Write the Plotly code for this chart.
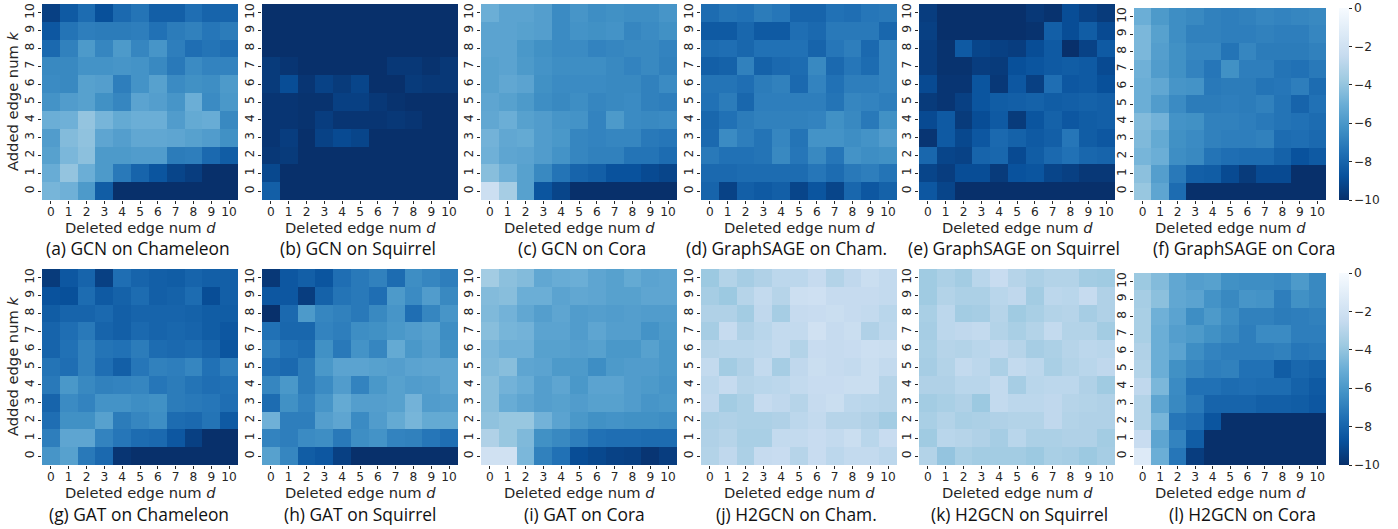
import plotly.graph_objects as go

W, H = 1398, 529
N = -10.0

ticks = list(range(11))
colorbar_ticks = [0, -2, -4, -6, -8, -10]

# every table lists rows from k=10 (top) down to k=0 (bottom), columns d=0..10
gcn_chameleon = [
    [-9.4,-8.4,-7.7,-8.8,-7.8,-7.4,-8.2,-8.2,-7.6,-8.0,-8.0],
    [-8.5,-7.4,-7.0,-7.1,-7.1,-7.0,-7.5,-7.1,-6.9,-7.3,-7.1],
    [-7.8,-6.9,-5.9,-6.7,-5.9,-6.7,-6.1,-7.0,-7.6,-7.4,-7.6],
    [-6.6,-6.6,-6.2,-6.2,-6.1,-6.2,-6.6,-7.2,-6.5,-6.8,-6.8],
    [-6.5,-6.6,-5.6,-5.7,-7.0,-6.2,-5.6,-6.5,-6.3,-6.4,-5.9],
    [-6.2,-5.8,-5.6,-6.3,-6.7,-5.5,-5.7,-6.1,-5.0,-6.5,-6.0],
    [-5.0,-4.9,-4.0,-4.7,-5.2,-5.0,-5.0,-5.8,-5.2,-5.1,-6.6],
    [-5.8,-4.4,-4.1,-5.4,-5.7,-5.3,-5.3,-5.4,-5.6,-5.8,-6.3],
    [-5.6,-4.6,-4.2,-5.9,-5.9,-5.8,-5.8,-7.1,-7.0,-7.8,-8.3],
    [-5.1,-4.0,-5.0,-5.9,-7.2,-8.0,-8.6,-9.2,-9.5,N,N],
    [-4.7,-4.9,-5.9,-8.3,N,N,N,N,N,N,N],
]
gcn_squirrel = [
    [N,N,N,N,N,N,N,N,N,N,N],
    [N,N,N,N,N,N,N,N,N,N,N],
    [N,N,N,N,N,N,N,N,N,N,N],
    [-9.6,-9.8,N,N,N,N,N,-9.7,-9.7,-9.9,-9.7],
    [-9.6,-8.9,-9.8,-9.3,-9.6,-9.2,N,N,-9.6,-9.7,-9.7],
    [-9.8,-9.8,-9.9,-9.9,-9.4,-9.4,-9.7,-9.9,N,N,N],
    [-9.8,-9.8,-9.9,-9.5,-9.8,-9.8,-9.8,-9.7,-9.8,N,N],
    [-9.8,-9.5,N,-9.3,-9.0,-9.2,N,N,N,N,N],
    [-9.7,-9.6,N,N,N,N,N,N,N,N,N],
    [-9.1,N,N,N,N,N,N,N,N,N,N],
    [-8.2,N,N,N,N,N,N,N,N,N,N],
]
gcn_cora = [
    [-5.0,-5.5,-5.5,-5.7,-6.5,-6.1,-6.4,-6.3,-6.4,-6.4,-6.1],
    [-5.5,-5.5,-5.6,-5.7,-6.5,-6.2,-6.3,-6.2,-6.7,-6.5,-6.3],
    [-5.5,-5.5,-6.0,-6.3,-6.5,-6.5,-6.8,-6.7,-6.6,-6.6,-6.8],
    [-5.6,-5.5,-5.9,-6.2,-6.4,-6.4,-6.4,-6.6,-6.8,-6.6,-6.9],
    [-5.6,-5.3,-5.5,-6.3,-6.5,-6.5,-6.5,-6.6,-6.6,-6.9,-6.5],
    [-5.4,-5.6,-5.9,-6.4,-6.6,-6.4,-6.7,-6.6,-6.5,-6.9,-7.0],
    [-5.3,-5.0,-5.6,-5.8,-6.1,-6.2,-6.8,-5.9,-6.5,-6.6,-6.5],
    [-4.8,-5.3,-5.2,-5.8,-6.0,-6.7,-6.8,-6.7,-6.7,-7.2,-7.3],
    [-4.9,-5.4,-5.5,-5.8,-6.2,-6.7,-6.9,-6.9,-7.4,-7.4,-7.7],
    [-4.3,-4.9,-5.6,-6.6,-7.4,-8.0,-8.2,-8.7,-8.7,-9.0,-9.2],
    [-2.2,-3.5,-5.6,-8.6,-9.2,N,N,N,N,N,N],
]
sage_cham = [
    [-7.7,-7.4,-7.5,-7.1,-7.3,-8.0,-8.0,-7.5,-7.6,-7.3,-7.2],
    [-8.4,-8.4,-7.9,-8.4,-8.4,-7.6,-7.8,-7.2,-7.2,-7.2,-7.9],
    [-7.7,-7.6,-7.9,-7.5,-7.5,-7.5,-8.0,-7.3,-7.0,-7.8,-6.8],
    [-8.2,-8.1,-6.9,-8.1,-7.8,-7.7,-6.6,-7.8,-7.3,-7.7,-6.8],
    [-7.4,-7.4,-7.6,-7.1,-6.9,-7.8,-6.8,-7.5,-7.0,-7.0,-6.8],
    [-7.5,-7.1,-7.9,-7.0,-7.0,-7.0,-7.0,-7.4,-6.7,-6.8,-7.0],
    [-7.9,-7.5,-7.1,-6.9,-6.9,-6.9,-6.8,-6.3,-6.6,-7.2,-6.3],
    [-7.8,-6.5,-7.0,-7.4,-6.7,-7.4,-6.2,-6.2,-6.4,-6.2,-5.8],
    [-7.2,-7.5,-7.5,-7.4,-6.6,-7.3,-6.6,-7.3,-6.2,-6.4,-6.3],
    [-7.8,-7.8,-7.7,-7.7,-7.7,-7.7,-7.3,-7.7,-7.2,-7.0,-7.4],
    [-8.0,-9.3,-8.2,-8.4,-8.2,-9.2,-8.6,-9.2,-7.9,-8.5,-8.1],
]
sage_squirrel = [
    [-9.5,N,N,N,N,N,-9.7,-9.9,-8.9,-9.3,-9.6],
    [-9.4,N,N,N,N,N,-9.9,-8.2,-8.9,-8.3,-9.0],
    [-9.5,-9.9,-8.4,-9.2,-9.4,-9.5,-8.9,-8.4,N,-9.3,-8.4],
    [-9.5,-9.9,-9.9,-9.5,-9.6,-8.8,-8.6,-8.4,-8.3,-8.4,-9.0],
    [-9.0,-9.8,-9.8,-8.6,-9.7,-8.5,-9.4,-7.6,-8.5,-8.4,-8.8],
    [-9.6,-9.8,-9.4,-8.6,-8.3,-8.2,-8.1,-8.3,-8.2,-8.1,-8.2],
    [-9.0,-8.4,-9.6,-8.9,-8.4,-9.6,-8.6,-8.1,-8.5,-8.3,-8.2],
    [-9.8,-8.4,-9.1,-8.5,-7.8,-8.1,-8.4,-8.2,-7.3,-8.3,-8.5],
    [-7.9,-9.2,-9.3,-8.0,-7.9,-9.0,-8.3,-7.8,-7.5,-7.9,-8.0],
    [-9.2,-9.5,-8.9,-8.9,-9.6,-8.7,-8.6,-9.2,-9.4,-9.7,-9.7],
    [-8.5,-9.2,N,N,N,N,N,N,N,N,N],
]
sage_cora = [
    [-5.0,-5.9,-6.4,-6.6,-6.9,-7.0,-6.9,-6.7,-6.8,-6.7,-6.6],
    [-4.6,-5.6,-6.4,-6.9,-6.9,-7.0,-7.0,-6.9,-7.0,-7.0,-6.7],
    [-4.6,-5.7,-6.3,-6.7,-6.7,-7.4,-6.7,-7.1,-7.1,-7.1,-6.9],
    [-4.9,-5.8,-6.3,-6.8,-7.3,-6.3,-7.0,-7.0,-7.4,-7.5,-7.2],
    [-5.0,-5.3,-6.1,-6.2,-7.2,-7.1,-7.1,-7.4,-7.3,-7.0,-7.7],
    [-5.0,-5.8,-6.5,-7.1,-7.1,-7.0,-7.1,-6.9,-7.4,-8.0,-7.5],
    [-4.4,-4.8,-6.2,-6.3,-6.9,-6.9,-7.0,-7.2,-7.4,-7.5,-7.7],
    [-4.5,-5.2,-6.3,-6.5,-6.9,-7.0,-7.0,-6.9,-7.7,-7.6,-7.8],
    [-4.7,-5.0,-6.4,-6.6,-7.4,-7.6,-7.7,-7.7,-8.1,-8.7,-8.4],
    [-4.2,-5.7,-7.2,-8.2,-8.3,-9.0,-9.6,-9.0,-9.0,N,N],
    [-3.9,-5.4,-7.7,N,N,N,N,N,N,N,N],
]
gat_chameleon = [
    [-9.6,-8.5,-8.0,-9.4,-7.6,-8.0,-8.2,-8.3,-8.0,-8.2,-8.2],
    [-8.7,-8.8,-7.7,-8.4,-8.1,-7.7,-8.2,-8.1,-7.7,-8.9,-8.2],
    [-8.3,-8.0,-8.0,-7.8,-8.2,-8.0,-8.0,-8.0,-8.1,-8.3,-8.3],
    [-8.0,-7.6,-7.2,-8.0,-8.2,-7.8,-8.0,-7.9,-8.0,-8.3,-8.5],
    [-8.0,-7.5,-6.9,-7.4,-7.5,-7.1,-7.7,-7.8,-7.7,-8.0,-8.6],
    [-7.4,-7.6,-6.9,-7.6,-8.2,-7.3,-6.9,-7.0,-6.7,-7.5,-7.0],
    [-7.2,-6.0,-6.6,-6.9,-6.8,-6.7,-7.3,-7.1,-7.4,-7.6,-7.5],
    [-8.0,-6.5,-6.8,-6.2,-6.2,-6.4,-6.3,-7.1,-7.2,-7.3,-7.6],
    [-7.6,-6.3,-6.3,-5.6,-7.1,-6.7,-6.4,-7.7,-7.8,-7.4,-8.4],
    [-7.0,-5.4,-5.4,-6.8,-7.3,-7.7,-7.8,-8.5,-9.4,N,N],
    [-6.1,-5.6,-7.2,-7.8,-9.8,N,N,N,N,N,N],
]
gat_squirrel = [
    [-9.7,-8.5,-8.2,-8.6,-7.6,-7.2,-6.9,-7.7,-6.4,-6.7,-7.0],
    [-8.5,-8.5,-9.5,-8.1,-7.4,-7.2,-7.6,-5.9,-6.5,-5.8,-6.6],
    [N,-7.8,-5.9,-6.7,-6.9,-7.2,-6.6,-6.1,-7.6,-6.7,-6.1],
    [-7.5,-7.9,-7.9,-6.8,-7.0,-6.4,-6.3,-6.0,-5.8,-5.6,-6.4],
    [-7.0,-7.5,-7.7,-6.3,-7.2,-6.2,-6.7,-5.2,-6.0,-5.7,-6.3],
    [-7.6,-7.8,-7.1,-6.0,-5.5,-5.5,-5.6,-5.7,-5.5,-5.4,-5.4],
    [-6.7,-6.0,-7.1,-6.5,-5.8,-6.8,-6.0,-5.6,-5.8,-5.7,-5.4],
    [-7.7,-6.3,-6.8,-6.1,-5.2,-5.7,-5.7,-5.6,-4.8,-5.8,-5.7],
    [-4.9,-7.0,-7.0,-5.7,-5.4,-6.5,-5.8,-5.2,-4.7,-5.2,-5.2],
    [-6.8,-7.0,-6.5,-6.4,-7.2,-6.4,-6.2,-6.8,-6.9,-7.3,-7.6],
    [-5.6,-6.7,-8.3,-8.5,-9.4,N,N,N,N,N,N],
]
gat_cora = [
    [-3.6,-4.2,-4.4,-5.3,-5.1,-5.0,-5.4,-5.6,-5.2,-5.5,-5.4],
    [-4.4,-4.3,-5.0,-5.0,-5.5,-5.3,-5.4,-5.6,-5.6,-5.4,-5.4],
    [-4.5,-4.8,-5.3,-5.7,-5.4,-5.8,-5.7,-5.8,-5.7,-5.8,-5.8],
    [-4.3,-4.7,-4.8,-5.5,-5.5,-5.8,-5.4,-5.7,-5.7,-6.2,-5.9],
    [-4.6,-4.9,-4.9,-5.6,-5.6,-5.7,-5.6,-6.0,-6.0,-5.6,-6.0],
    [-4.5,-4.3,-5.4,-5.5,-5.9,-5.9,-6.4,-5.9,-5.8,-5.8,-6.0],
    [-4.3,-4.8,-5.1,-5.7,-5.4,-6.0,-5.5,-5.5,-5.8,-5.9,-6.1],
    [-4.3,-5.1,-5.4,-5.7,-5.6,-5.8,-5.6,-5.6,-5.8,-6.1,-6.0],
    [-4.1,-3.9,-3.9,-4.8,-5.5,-6.0,-6.3,-6.2,-6.3,-6.3,-6.4],
    [-3.2,-3.9,-4.5,-6.3,-6.6,-7.0,-7.5,-7.6,-7.6,-7.7,-7.7],
    [-2.0,-2.0,-4.6,-6.9,-7.5,-8.9,-9.1,-9.3,-9.4,-9.8,-9.5],
]
h2gcn_cham = [
    [-3.8,-3.1,-3.5,-3.2,-2.8,-2.8,-2.5,-3.1,-2.7,-2.3,-2.6],
    [-3.5,-3.8,-3.0,-2.6,-3.0,-2.2,-2.1,-2.5,-2.5,-2.5,-2.6],
    [-3.2,-3.2,-3.6,-2.7,-3.5,-2.5,-2.4,-2.3,-2.5,-2.6,-2.9],
    [-3.5,-2.5,-3.2,-2.9,-2.6,-2.6,-2.0,-2.5,-2.3,-3.2,-2.8],
    [-3.0,-2.9,-2.9,-2.8,-2.6,-3.1,-2.4,-2.5,-2.4,-2.2,-2.3],
    [-2.6,-3.6,-3.2,-2.6,-3.5,-2.7,-2.3,-2.5,-2.6,-2.3,-2.6],
    [-2.8,-2.5,-3.0,-2.9,-2.8,-2.6,-2.4,-2.4,-2.3,-2.3,-3.0],
    [-2.7,-3.6,-3.3,-2.5,-2.7,-3.0,-2.5,-2.3,-2.8,-2.9,-3.0],
    [-3.3,-3.2,-3.3,-3.3,-3.2,-2.8,-2.6,-3.0,-3.0,-3.2,-3.6],
    [-3.2,-3.0,-3.4,-3.4,-2.6,-2.6,-2.4,-2.6,-2.3,-2.9,-2.4],
    [-3.1,-2.7,-3.3,-2.5,-2.4,-3.0,-2.4,-2.8,-2.6,-2.6,-2.8],
]
h2gcn_squirrel = [
    [-3.7,-3.3,-3.6,-2.9,-2.4,-3.0,-3.3,-3.1,-3.1,-3.6,-3.7],
    [-3.7,-3.1,-3.3,-3.3,-2.9,-2.7,-3.6,-2.8,-2.9,-2.5,-3.2],
    [-3.4,-2.8,-3.6,-3.5,-3.0,-3.7,-3.4,-3.1,-3.0,-3.5,-3.2],
    [-3.5,-2.8,-2.7,-2.6,-3.1,-3.4,-3.1,-2.6,-3.1,-3.1,-3.6],
    [-3.4,-3.0,-3.1,-2.9,-2.7,-3.0,-3.5,-3.3,-3.0,-2.8,-2.9],
    [-3.5,-3.1,-2.6,-2.8,-3.3,-2.6,-2.8,-3.4,-3.1,-2.9,-2.7],
    [-3.2,-3.2,-2.9,-2.9,-2.6,-3.5,-2.9,-2.8,-2.8,-3.2,-3.7],
    [-3.6,-3.4,-3.2,-3.8,-2.6,-2.8,-2.8,-2.7,-3.0,-3.1,-3.2],
    [-3.4,-3.1,-3.4,-3.3,-3.2,-3.1,-3.1,-2.7,-3.1,-3.2,-3.2],
    [-3.7,-2.9,-3.0,-3.2,-3.5,-2.9,-3.3,-3.3,-3.2,-3.2,-3.6],
    [-3.1,-4.0,-3.4,-3.6,-3.6,-3.6,-3.8,-3.4,-3.5,-3.8,-3.5],
]
h2gcn_cora = [
    [-3.8,-4.4,-5.3,-5.7,-5.6,-6.3,-6.4,-6.4,-6.5,-5.9,-6.6],
    [-3.5,-4.2,-5.3,-5.5,-6.2,-6.6,-6.1,-6.2,-7.0,-6.3,-6.6],
    [-3.4,-4.9,-5.5,-6.4,-5.9,-6.4,-6.9,-6.9,-7.1,-7.0,-6.9],
    [-3.4,-5.0,-5.7,-5.9,-6.3,-6.6,-7.0,-6.5,-6.5,-7.0,-7.0],
    [-3.2,-5.0,-5.5,-6.4,-6.8,-7.0,-7.0,-7.0,-6.9,-7.3,-7.2],
    [-3.1,-5.0,-6.3,-6.7,-7.0,-6.9,-7.5,-7.5,-8.3,-7.9,-8.1],
    [-2.7,-4.6,-6.5,-7.5,-7.5,-7.7,-7.6,-7.7,-7.7,-8.1,-8.4],
    [-3.1,-5.4,-6.6,-7.2,-8.0,-8.0,-8.0,-8.2,-8.2,-8.3,-8.5],
    [-3.1,-4.7,-7.3,-7.6,-8.6,N,N,N,N,N,N],
    [-2.4,-5.4,-6.8,-8.3,N,N,N,N,N,N,N],
    [-1.3,-5.0,-7.3,-9.5,N,N,N,N,N,N,N],
]

captions = [
    "(a) GCN on Chameleon", "(b) GCN on Squirrel", "(c) GCN on Cora",
    "(d) GraphSAGE on Cham.", "(e) GraphSAGE on Squirrel", "(f) GraphSAGE on Cora",
    "(g) GAT on Chameleon", "(h) GAT on Squirrel", "(i) GAT on Cora",
    "(j) H2GCN on Cham.", "(k) H2GCN on Squirrel", "(l) H2GCN on Cora",
]
tables = [gcn_chameleon, gcn_squirrel, gcn_cora, sage_cham, sage_squirrel, sage_cora,
          gat_chameleon, gat_squirrel, gat_cora, h2gcn_cham, h2gcn_squirrel, h2gcn_cora]

# panel rectangles in pixels: left, right, top, bottom
panels = [
    (42, 238, 4, 200), (262, 458, 4, 200), (481, 677, 4, 200),
    (701, 897, 4, 200), (919, 1115, 4, 200), (1134, 1326, 8, 200),
    (42, 238, 269, 465), (262, 458, 269, 465), (481, 677, 269, 465),
    (701, 897, 269, 465), (919, 1115, 269, 465), (1134, 1326, 273, 465),
]
caption_x = [138, 358, 582, 786, 1014, 1244, 139, 360, 584, 796, 1019, 1242]
caption_y = [248] * 6 + [513.5] * 6
xlabel_y = [227] * 6 + [492.5] * 6

blues_r = [
    [0.0, "#08306b"], [0.125, "#08519c"], [0.25, "#2171b5"], [0.375, "#4292c6"],
    [0.5, "#6baed6"], [0.625, "#9ecae1"], [0.75, "#c6dbef"], [0.875, "#deebf7"],
    [1.0, "#f7fbff"],
]
TICK_FONT = dict(family="DejaVu Sans", size=12.2, color="#262626")
TITLE_FONT = dict(family="DejaVu Sans", size=14.7, color="#262626")
CAPTION_FONT = dict(family="Open Sans", size=17.4, color="#111111")

fig = go.Figure()
annotations = []
for i, (table, rect) in enumerate(zip(tables, panels)):
    left, right, top, bottom = rect
    n = i + 1
    xname = "xaxis" if n == 1 else f"xaxis{n}"
    yname = "yaxis" if n == 1 else f"yaxis{n}"
    has_bar = i in (5, 11)
    trace = go.Heatmap(
        z=table[::-1], x=ticks, y=ticks, zmin=-10, zmax=0, colorscale=blues_r,
        showscale=has_bar, hoverongaps=False,
        xaxis="x" if n == 1 else f"x{n}", yaxis="y" if n == 1 else f"y{n}",
    )
    if has_bar:
        trace.colorbar = dict(
            x=1339 / W, xanchor="left", xpad=0, ypad=0,
            y=1 - bottom / H, yanchor="bottom",
            len=(bottom - top) / H, lenmode="fraction",
            thickness=10, thicknessmode="pixels", outlinewidth=0,
            tickvals=colorbar_ticks, ticks="outside", ticklen=3, tickwidth=1,
            tickcolor="#262626", tickfont=TICK_FONT,
        )
    fig.add_trace(trace)
    fig.layout[xname] = dict(
        domain=[left / W, right / W], range=[-0.5, 10.5], tickvals=ticks,
        ticks="outside", ticklen=3, tickwidth=1, tickcolor="#262626",
        tickangle=0, tickfont=TICK_FONT, showgrid=False, zeroline=False,
        anchor="y" if n == 1 else f"y{n}", showline=False, ticklabelstandoff=-3,
    )
    fig.layout[yname] = dict(
        domain=[1 - bottom / H, 1 - top / H], range=[-0.5, 10.5], tickvals=ticks,
        ticks="outside", ticklen=3, tickwidth=1, tickcolor="#262626",
        tickangle=-90, tickfont=TICK_FONT, showgrid=False, zeroline=False,
        anchor="x" if n == 1 else f"x{n}", showline=False, ticklabelstandoff=-1,
    )
    annotations.append(dict(
        text="Deleted edge num <i>d</i>", x=(left + right) / 2 / W, y=1 - xlabel_y[i] / H,
        xref="paper", yref="paper", xanchor="center", yanchor="middle",
        showarrow=False, font=TITLE_FONT,
    ))
    annotations.append(dict(
        text=captions[i], x=caption_x[i] / W, y=1 - caption_y[i] / H,
        xref="paper", yref="paper", xanchor="center", yanchor="middle",
        showarrow=False, font=CAPTION_FONT,
    ))
    if i in (0, 6):
        annotations.append(dict(
            text="Added edge num <i>k</i>", x=12 / W, y=1 - (top + bottom) / 2 / H,
            xref="paper", yref="paper", xanchor="center", yanchor="middle",
            showarrow=False, textangle=-90, font=TITLE_FONT,
        ))

fig.update_layout(
    width=W, height=H, margin=dict(l=0, r=0, t=0, b=0),
    paper_bgcolor="white", plot_bgcolor="white", annotations=annotations,
)
fig.write_html("out.html", config={"displayModeBar": False},
               post_script="document.body.style.margin='0';document.documentElement.style.overflow='hidden';")
